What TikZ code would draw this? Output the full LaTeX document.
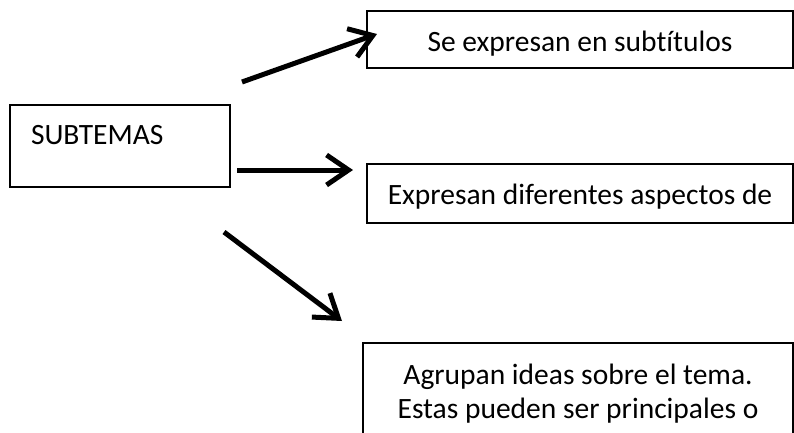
\documentclass[tikz,border=0pt]{standalone}
\usepackage{fontspec}
\setmainfont[Ligatures=NoCommon]{Carlito}
\usetikzlibrary{positioning, arrows.meta, calc}

\begin{document}
\begin{tikzpicture}[
    x=1pt, y=-1pt,
    arrow/.style={
        -{Straight Barb[length=22pt, width=30pt]},
        line width=5pt
    },
    box/.style={
        rectangle,
        draw,
        line width=2pt,
        inner sep=0pt,
        anchor=north west,
        font=\fontsize{29.5}{34}\selectfont
    }
]
    \clip (0,0) rectangle (794,432);

    % Topic
    \node[box, text width=178pt, inner xsep=21pt, align=left,
          text height=39pt, text depth=43pt] (subt) at (9,104) {SUBTEMAS};

    % Descriptions
    \node[box, minimum width=426pt, text height=40pt, text depth=17pt] (sub1) at (366,10) {Se expresan en subtítulos};
    \node[box, minimum width=426pt, text height=40pt, text depth=19pt] (sub2) at (366,163) {Expresan diferentes aspectos de};
    \node[box, text width=430pt, align=flush center,
          text height=41pt, text depth=90pt] (sub3) at (362,342) {Agrupan ideas sobre el tema.\\Estas pueden ser principales o};

    % Arrow ends
    \coordinate (a1) at ($(subt.north east) + (11,-22)$);
    \coordinate (b1) at ($(sub1.west) + (11,-5.5)$);
    \coordinate (a2) at ($(subt.east) + (6,24)$);
    \coordinate (b2) at ($(sub2.west) + (-13,-23.5)$);
    \coordinate (a3) at ($(subt.south east) + (-7,44)$);
    \coordinate (b3) at ($(sub3.north west) + (-20,-21)$);

    \draw[arrow] (a1) -- (b1);
    \draw[arrow] (a2) -- (b2);
    \draw[arrow] (a3) -- (b3);
\end{tikzpicture}
\end{document}
